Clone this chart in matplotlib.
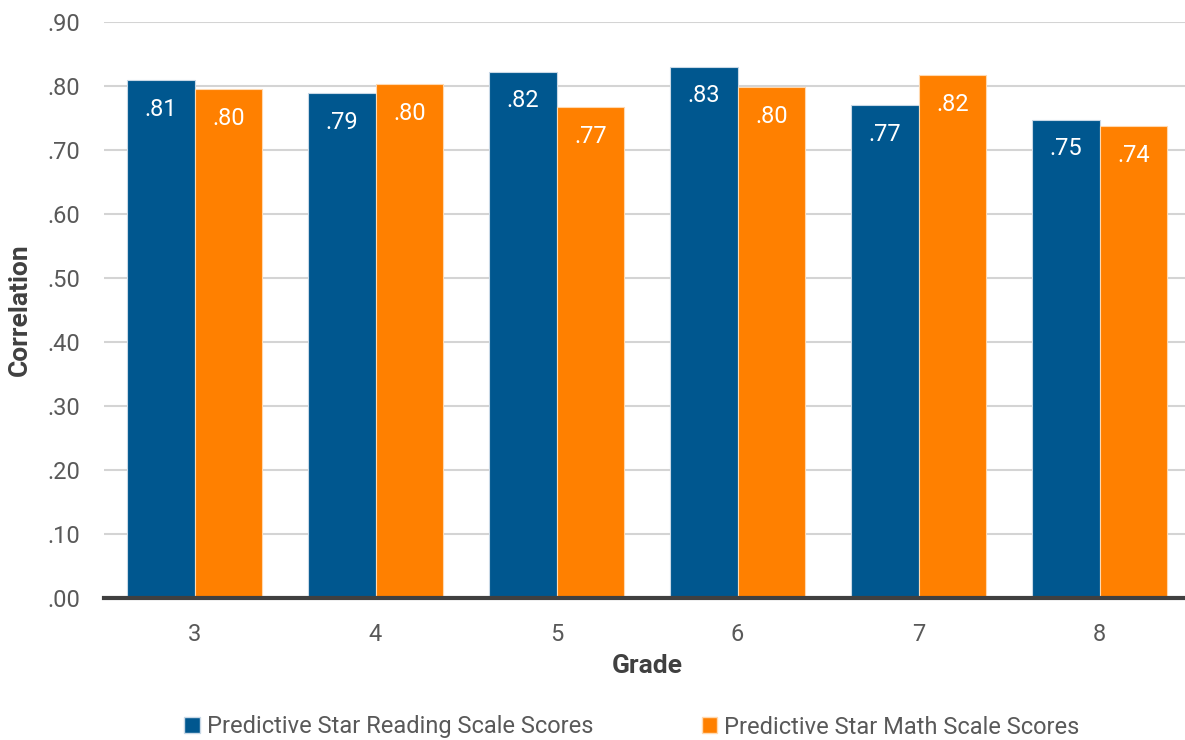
import matplotlib
matplotlib.use("Agg")
import matplotlib.pyplot as plt
from matplotlib.patches import Patch
import numpy as np

grades = ["3", "4", "5", "6", "7", "8"]
reading = [0.809, 0.789, 0.822, 0.830, 0.770, 0.747]
math = [0.795, 0.803, 0.767, 0.798, 0.817, 0.737]
reading_labels = [".81", ".79", ".82", ".83", ".77", ".75"]
math_labels = [".80", ".80", ".77", ".80", ".82", ".74"]
yticks = [0.0, 0.1, 0.2, 0.3, 0.4, 0.5, 0.6, 0.7, 0.8, 0.9]
ytick_labels = [".00", ".10", ".20", ".30", ".40", ".50", ".60", ".70", ".80", ".90"]
series_names = ["Predictive Star Reading Scale Scores", "Predictive Star Math Scale Scores"]

BLUE = "#00578f"
ORANGE = "#ff8000"
TXT = "#595959"

plt.rcParams["font.family"] = ["Roboto", "DejaVu Sans"]

fig = plt.figure(figsize=(11.85, 7.4), dpi=100)
ax = fig.add_axes([104/1185, 142/740, 1086/1185, 576/740])

x = np.arange(len(grades))
w = 0.375
ax.bar(x - w/2, reading, w, color=BLUE, edgecolor="#c8d8e6", linewidth=0.8, zorder=3)
ax.bar(x + w/2, math, w, color=ORANGE, edgecolor="#ffd9b0", linewidth=0.8, zorder=3)

for xi, v, lab in zip(x - w/2, reading, reading_labels):
    ax.annotate(lab, (xi, v), xytext=(0, -29), textcoords="offset pixels",
                ha="center", va="center", color="white", fontsize=17, zorder=4)
for xi, v, lab in zip(x + w/2, math, math_labels):
    ax.annotate(lab, (xi, v), xytext=(0, -29), textcoords="offset pixels",
                ha="center", va="center", color="white", fontsize=17, zorder=4)

ax.set_xlim(-0.5, 5.5)
ax.set_ylim(0, 0.9)
ax.set_yticks(yticks)
ax.set_yticklabels(ytick_labels)
ax.set_xticks(x)
ax.set_xticklabels(grades)
ax.yaxis.grid(True, color="#d4d4d4", linewidth=1.5, zorder=0)
ax.set_axisbelow(True)
for s in ["top", "right", "left"]:
    ax.spines[s].set_visible(False)
ax.spines["bottom"].set_color("#404040")
ax.spines["bottom"].set_linewidth(3)
ax.spines["bottom"].set_zorder(5)
ax.tick_params(axis="both", length=0, labelsize=17, labelcolor=TXT)
ax.tick_params(axis="y", pad=17)
ax.tick_params(axis="x", pad=18)

ax.set_xlabel("Grade", fontsize=19, fontweight="bold", color="#404040", labelpad=6)
ax.set_ylabel("Correlation", fontsize=19, fontweight="bold", color="#404040")
ax.yaxis.set_label_coords(-72/1086, 0.5)

handles = [Patch(facecolor=BLUE, edgecolor="#c8d8e6"), Patch(facecolor=ORANGE, edgecolor="#ffd9b0")]
fig.legend(handles, series_names, loc="center", bbox_to_anchor=(632/1185, 1 - 727/740),
           ncol=2, frameon=False, handlelength=0.65, handleheight=0.65,
           handletextpad=0.3, columnspacing=4.6, labelcolor=TXT, prop={"size": 17})

fig.savefig("out.png", dpi=100)
